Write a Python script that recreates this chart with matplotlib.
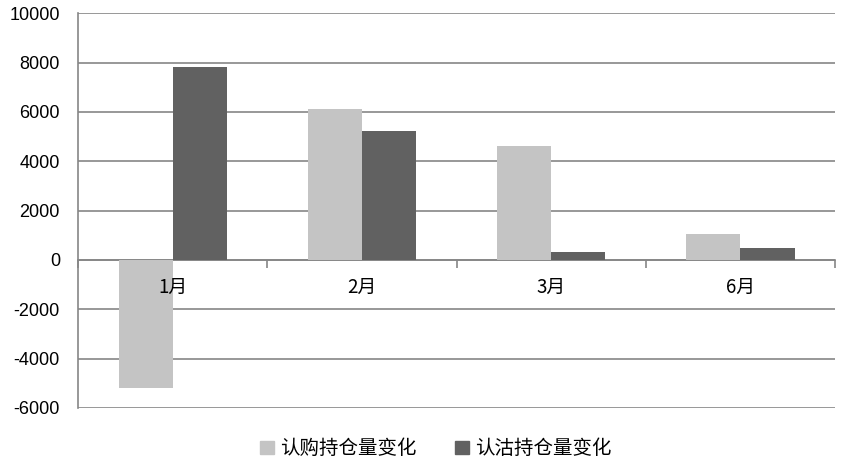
import matplotlib.pyplot as plt
import numpy as np
from matplotlib.patches import Patch

plt.rcParams['font.family'] = ['Noto Sans CJK SC', 'DejaVu Sans']

months = ['1月', '2月', '3月', '6月']
call_change = [-5180, 6120, 4620, 1050]   # 认购持仓量变化
put_change = [7820, 5230, 330, 490]       # 认沽持仓量变化
yticks = [-6000, -4000, -2000, 0, 2000, 4000, 6000, 8000, 10000]

light = '#C4C4C4'
dark = '#616161'
grid = '#868686'

fig = plt.figure(figsize=(8.46, 4.65), dpi=100)
ax = fig.add_axes([0.0922, 0.1226, 0.8948, 0.8488])

x = np.arange(len(months))
w = 0.286
ax.bar(x - w / 2, call_change, w, color=light, zorder=3)
ax.bar(x + w / 2, put_change, w, color=dark, zorder=3)

ax.set_xlim(-0.5, len(months) - 0.5)
ax.set_ylim(-6000, 10000)
ax.set_yticks(yticks)
ax.set_yticklabels([str(v) for v in yticks], fontsize=13, family=['Liberation Sans', 'DejaVu Sans'])
ax.tick_params(axis='y', length=0, pad=13)
ax.yaxis.grid(True, color=grid, linewidth=1.2, zorder=1)

# category axis drawn at zero
ax.spines['bottom'].set_position(('data', 0))
ax.spines['bottom'].set_color(grid)
ax.spines['bottom'].set_linewidth(1.2)
ax.spines['left'].set_color(grid)
ax.spines['left'].set_linewidth(1.2)
ax.spines['top'].set_visible(False)
ax.spines['right'].set_visible(False)
ax.set_xticks(np.arange(len(months) + 1) - 0.5)
ax.set_xticklabels([])
ax.tick_params(axis='x', direction='out', length=6, color=grid, width=1.2)
for i, m in enumerate(months):
    ax.annotate(m, (i, 0), xytext=(0, -12), textcoords='offset points',
                ha='center', va='top', fontsize=13.5)

handles = [Patch(color=light), Patch(color=dark)]
fig.legend(handles, ['认购持仓量变化', '认沽持仓量变化'], loc='center',
           bbox_to_anchor=(0.515, 0.035), ncol=2, frameon=False, fontsize=14,
           handlelength=0.7, handleheight=0.7, handletextpad=0.3, columnspacing=2.0)

fig.savefig('out.png', dpi=100)
